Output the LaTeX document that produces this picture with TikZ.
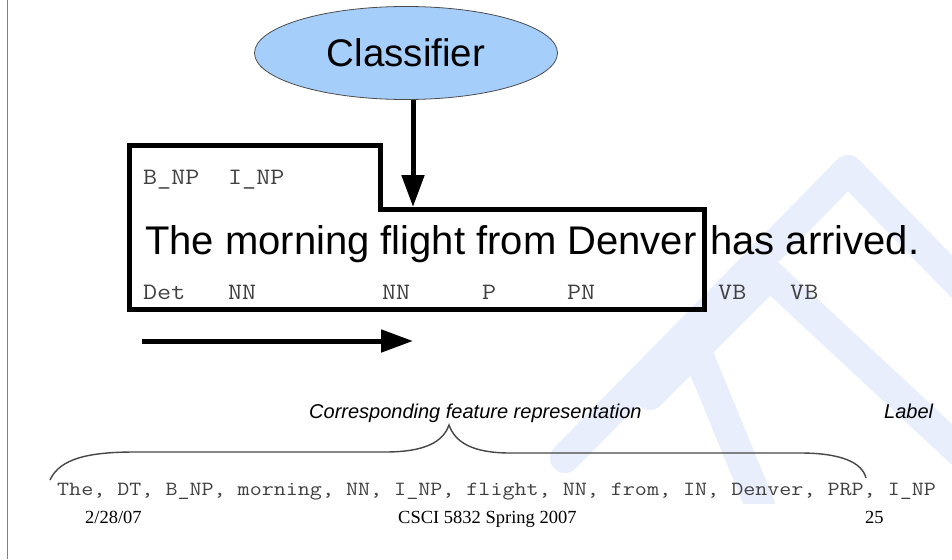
\documentclass[tikz,border=0pt]{standalone}
\usepackage{fontspec}
\setmainfont{Liberation Sans}
\newfontfamily\monof[FakeStretch=1.16]{Latin Modern Mono}
\newfontfamily\seriff{Liberation Serif}
\usetikzlibrary{shapes.geometric,arrows.meta}
\definecolor{wm}{RGB}{232,238,252}
\definecolor{clsfill}{RGB}{166,206,250}
\definecolor{monogray}{RGB}{64,64,64}
\definecolor{bracegray}{RGB}{70,70,70}
\tikzset{
  wmband/.style={draw=wm, line width=30pt, line cap=round, line join=round},
  monolbl/.style={anchor=base west, inner sep=0pt, font=\monof\fontsize{23.5}{24}\selectfont, text=monogray},
  featlbl/.style={anchor=base west, inner sep=0pt, font=\monof\fontsize{20.15}{21}\selectfont, text=monogray},
  bigtxt/.style={anchor=base west, inner sep=0pt, font=\fontsize{40}{41}\selectfont},
  captxt/.style={anchor=base west, inner sep=0pt, font=\itshape\fontsize{20}{21}\selectfont},
  foottxt/.style={anchor=base west, inner sep=0pt, font=\seriff\fontsize{18.5}{19}\selectfont},
  clsnode/.style={ellipse, draw=black!70, line width=0.8pt, fill=clsfill, minimum width=303pt, minimum height=93pt, inner sep=0pt, font=\fontsize{38.5}{40}\selectfont},
  boxline/.style={line width=5pt, line join=miter},
  bigarrow/.style={line width=5pt, -{Triangle[length=32pt,width=22pt]}},
  bracestyle/.style={draw=bracegray, line width=1.4pt}
}
\begin{document}
\begin{tikzpicture}[x={(1pt,0)}, y={(0,-1pt)}]
\useasboundingbox (0,0) rectangle (952,559);
% watermark
\begin{scope}
\clip (0,0) rectangle (952,503);
\draw[wmband] (565,458) -- (848,170) -- (960,285);
\draw[wmband] (650,395) -- (770,275) -- (960,452);
\draw[wmband] (690,335) -- (760,505);
\end{scope}
% left border
\draw[gray, line width=0.8pt] (7,0) -- (7,559);
% classifier
\node[clsnode] (cls) at (406,53) {Classifier};
% box
\draw[boxline] (129,145.5) -- (380,145.5) -- (380,209.5) -- (704.5,209.5) -- (704.5,309.5) -- (129,309.5) -- cycle;
\coordinate (tip) at (413,207);
\draw[bigarrow] (tip |- cls.south) -- (tip);
% labels
\node[monolbl] (t1) at (143,184) {B\_NP};
\node[monolbl] (t2) at (228,184) {I\_NP};
\node[bigtxt] (s1) at (145,254) {The morning flight from Denver};
\node[bigtxt] (s2) at (710,254) {has arrived.};
\node[monolbl] (p1) at (143,299) {Det};
\node[monolbl] (p2) at (228,299) {NN};
\node[monolbl] (p3) at (382,299) {NN};
\node[monolbl] (p4) at (482,299) {P};
\node[monolbl] (p5) at (567,299) {PN};
\node[monolbl] (p6) at (718,299) {VB};
\node[monolbl] (p7) at (790,299) {VB};
% direction arrow
\coordinate (a1) at (142,341);
\coordinate (a2) at (413,341);
\draw[bigarrow] (a1) -- (a2);
% captions
\node[captxt] (cap) at (309,418) {Corresponding feature representation};
\node[captxt] (lab) at (884,418) {Label};
% brace
\draw[bracestyle] (50,480) .. controls (60,458) and (90,452) .. (135,452) -- (385,452) .. controls (425,452) and (443,442) .. (449,425) .. controls (455,442) and (472,453) .. (510,453) -- (800,453) .. controls (840,453) and (862,462) .. (866,478);
% feature line
\node[featlbl] (feat) at (57,495) {The, DT, B\_NP, morning, NN, I\_NP, flight, NN, from, IN, Denver, PRP, I\_NP};
% footer
\node[foottxt] (f1) at (85,523) {2/28/07};
\node[foottxt] (f2) at (398,523) {CSCI 5832 Spring 2007};
\node[foottxt] (f3) at (865,523) {25};
\end{tikzpicture}
\end{document}
